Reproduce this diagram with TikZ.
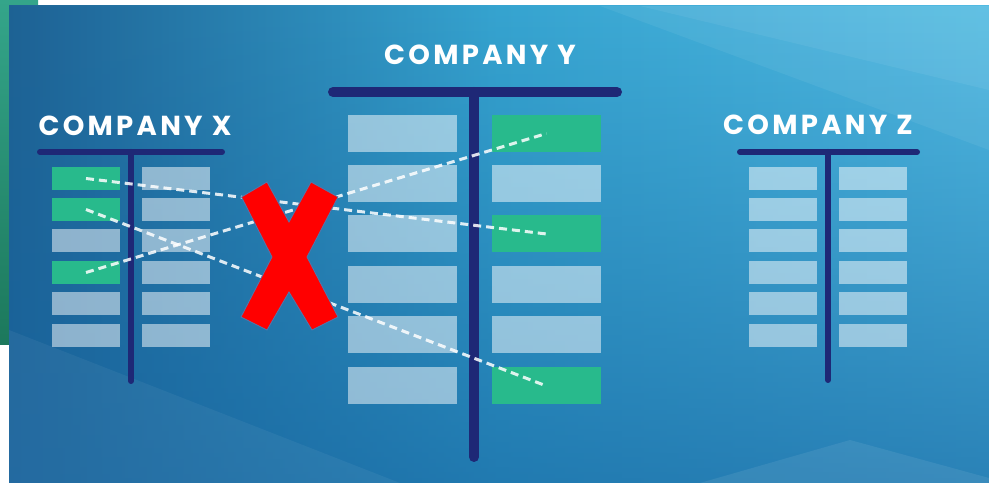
\documentclass[tikz,border=0pt]{standalone}
\usepackage{fontspec}
\newfontfamily\titlefont{Poppins}[LetterSpace=12]
\usetikzlibrary{fadings}
\definecolor{navy}{RGB}{30,40,118}
\definecolor{grn}{RGB}{40,186,140}
\definecolor{bgL}{RGB}{30,98,148}
\definecolor{bgM}{RGB}{54,164,208}
\definecolor{bgR}{RGB}{80,186,226}
\definecolor{bgD}{RGB}{22,100,160}
\definecolor{tealA}{RGB}{52,165,138}
\definecolor{tealB}{RGB}{28,120,92}
\definecolor{xred}{RGB}{255,0,0}
\definecolor{xedge}{RGB}{80,120,175}
\begin{document}
\begin{tikzpicture}[x=1pt,y=-1pt,
  title/.style={text=white,font=\titlefont\bfseries\fontsize{27.5}{27.5}\selectfont,anchor=base,inner sep=0},
  tbar/.style={draw=navy,line cap=round},
  sbox/.style={fill=white,fill opacity=0.5,draw=none,inner sep=0,minimum width=68pt,minimum height=23pt},
  bbox/.style={fill=white,fill opacity=0.5,draw=none,inner sep=0,minimum width=109pt,minimum height=37pt},
  gs/.style={fill=grn,fill opacity=1},
  link/.style={draw=white,draw opacity=0.85,line width=3pt,dash pattern=on 8pt off 5pt}]
\useasboundingbox (0,0) rectangle (989,486);
\fill[white] (0,0) rectangle (989,486);
\shade[top color=tealA,bottom color=tealB] (0,0) rectangle (38,345);
% background
\shade[left color=bgL,right color=bgR,middle color=bgM] (9,6) rectangle (989,483);
\fill[bgD,path fading=north,opacity=0.65] (9,6) rectangle (989,483);
\fill[white,opacity=0.06] (9,6) -- (989,6) -- (989,150) -- (600,6) -- cycle;
\fill[white,opacity=0.06] (640,6) -- (989,6) -- (989,90) -- cycle;
\fill[white,opacity=0.08] (700,483) -- (989,483) -- (989,478) -- (850,440) -- cycle;
\fill[white,opacity=0.05] (9,330) -- (400,483) -- (9,483) -- cycle;
% titles
\node[title] (tx) at (135,136) {COMPANY X};
\node[title] (ty) at (480,65) {COMPANY Y};
\node[title] (tz) at (818,135) {COMPANY Z};
% T bars
\draw[tbar,line width=6pt] (40,152) -- (222,152);
\draw[tbar,line width=6pt] (131,152) -- (131,381);
\draw[tbar,line width=10pt] (333,92) -- (617,92);
\draw[tbar,line width=10pt] (474,92) -- (474,457);
\draw[tbar,line width=6pt] (740,152) -- (917,152);
\draw[tbar,line width=6pt] (828,152) -- (828,380);
% company X and Z boxes
\foreach \i/\y in {1/178.5,2/209.5,3/241,4/272.5,5/304,6/335.5}{
  \node[sbox] (XL\i) at (86,\y) {};
  \node[sbox] (XR\i) at (176,\y) {};
  \node[sbox] (ZL\i) at (783,\y) {};
  \node[sbox] (ZR\i) at (873,\y) {};
}
\foreach \i in {1,2,4}{\node[sbox,gs] at (XL\i) {};}
% company Y boxes
\foreach \i/\y in {1/133.5,2/183.5,3/234,4/285,5/335,6/386}{
  \node[bbox] (YL\i) at (402.5,\y) {};
  \node[bbox] (YR\i) at (546.5,\y) {};
}
\foreach \i in {1,3,6}{\node[bbox,gs] at (YR\i) {};}
% links
\draw[link] (XL1.center) -- (YR3.center);
\draw[link] (XL2.center) -- (YR6.center);
\draw[link] (XL4.center) -- (YR1.center);
% red cross
\filldraw[fill=xred,draw=xedge,line width=0.8pt,line join=miter]
  (241.5,197) -- (267,182) -- (289,222) -- (311,182) -- (338,197) -- (307,257)
  -- (338,317) -- (312,330) -- (289,292) -- (267,330) -- (241,317) -- (272,257) -- cycle;
\end{tikzpicture}
\end{document}
